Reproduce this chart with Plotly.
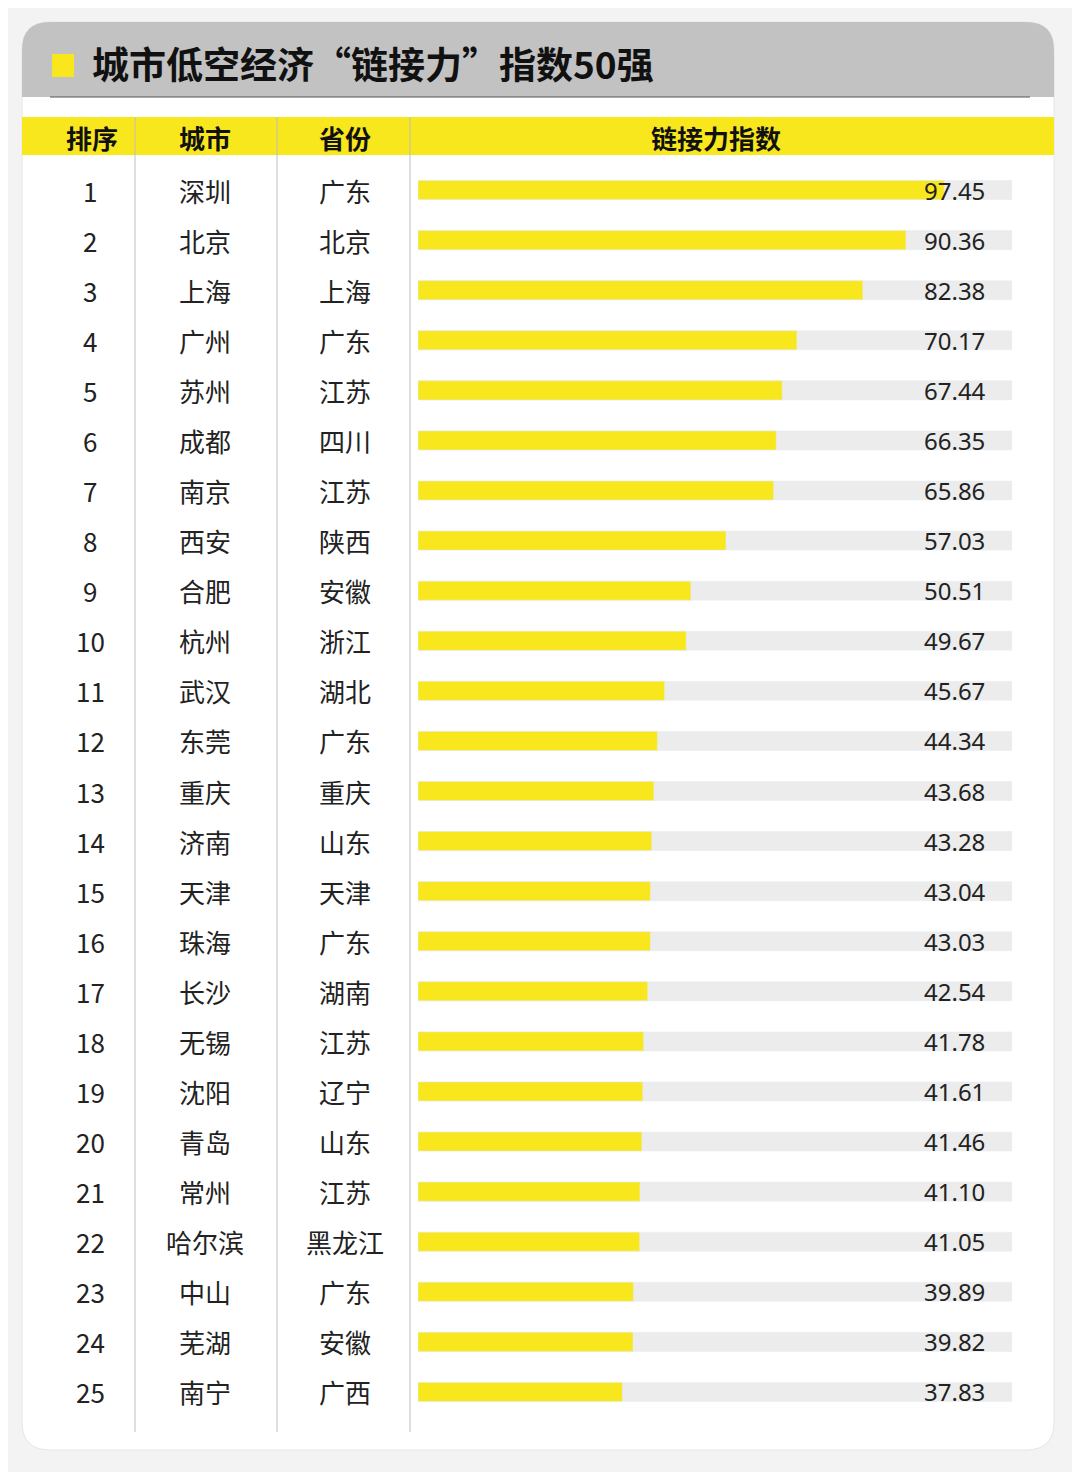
import plotly.graph_objects as go

ranks = list(range(1, 26))
cities = ["深圳","北京","上海","广州","苏州","成都","南京","西安","合肥","杭州","武汉","东莞","重庆","济南","天津","珠海","长沙","无锡","沈阳","青岛","常州","哈尔滨","中山","芜湖","南宁"]
provinces = ["广东","北京","上海","广东","江苏","四川","江苏","陕西","安徽","浙江","湖北","广东","重庆","山东","天津","广东","湖南","江苏","辽宁","山东","江苏","黑龙江","广东","安徽","广西"]
values = [97.45,90.36,82.38,70.17,67.44,66.35,65.86,57.03,50.51,49.67,45.67,44.34,43.68,43.28,43.04,43.03,42.54,41.78,41.61,41.46,41.10,41.05,39.89,39.82,37.83]
track_max = 110
title = "城市低空经济“链接力”指数50强"
headers = ["排序", "城市", "省份", "链接力指数"]

W, H = 1080, 1472
OFF = 8  # page body margin
def px(x): return (x - OFF) / W
def py(y): return 1 - (y - OFF) / H

fig = go.Figure()
fig.add_bar(y=ranks, x=[track_max]*len(ranks), orientation="h", marker_color="#ececec",
            width=0.38, hoverinfo="skip")
fig.add_bar(y=ranks, x=values, orientation="h", marker_color="#f8e71c", width=0.38)

shapes = []
r = 28
x0, x1, y0, y1 = px(22), px(1054), py(22), py(1450)
shapes.append(dict(type="path", xref="paper", yref="paper",
    path=f"M {x0+r/W},{y0} L {x1-r/W},{y0} Q {x1},{y0} {x1},{y0-r/H} L {x1},{y1+r/H} Q {x1},{y1} {x1-r/W},{y1} L {x0+r/W},{y1} Q {x0},{y1} {x0},{y1+r/H} L {x0},{y0-r/H} Q {x0},{y0} {x0+r/W},{y0} Z",
    fillcolor="white", line=dict(color="#e6e6e6", width=1), layer="below"))
shapes.append(dict(type="path", xref="paper", yref="paper",
    path=f"M {x0},{py(97)} L {x0},{y0-r/H} Q {x0},{y0} {x0+r/W},{y0} L {x1-r/W},{y0} Q {x1},{y0} {x1},{y0-r/H} L {x1},{py(97)} Z",
    fillcolor="#c2c2c2", line=dict(width=0), layer="below"))
shapes.append(dict(type="line", xref="paper", yref="paper", x0=px(50), x1=px(1030), y0=py(97), y1=py(97),
                   line=dict(color="#555", width=1.2)))
shapes.append(dict(type="rect", xref="paper", yref="paper", x0=px(52), x1=px(74), y0=py(54), y1=py(77),
                   fillcolor="#f8e71c", line=dict(width=0)))
shapes.append(dict(type="rect", xref="paper", yref="paper", x0=px(22), x1=px(1054), y0=py(117), y1=py(155),
                   fillcolor="#f8e71c", line=dict(width=0), layer="below"))
for vx in [135, 277, 410]:
    shapes.append(dict(type="line", xref="paper", yref="paper", x0=px(vx), x1=px(vx), y0=py(117), y1=py(1432),
                       line=dict(color="#bdbdbd", width=1)))

ann = [dict(text=title, xref="paper", yref="paper", x=px(90), y=py(63), xanchor="left", yanchor="middle",
            showarrow=False, font=dict(size=37, color="#111", family="Noto Sans CJK SC", weight="bold"))]
for hx, t in zip([92, 205, 345, 716], headers):
    ann.append(dict(text=t, xref="paper", yref="paper", x=px(hx), y=py(137), xanchor="center", yanchor="middle",
                    showarrow=False, font=dict(size=26, color="#111", family="Noto Sans CJK SC", weight="bold")))
f = dict(size=26, color="#222", family="Noto Sans CJK SC")
for rk, c, p, v in zip(ranks, cities, provinces, values):
    for xx, t in [(90, str(rk)), (205, c), (345, p)]:
        ann.append(dict(text=t, xref="paper", yref="y", x=px(xx), y=rk, xanchor="center", yanchor="middle",
                        showarrow=False, font=f))
    ann.append(dict(text=f"{v:.2f}", xref="paper", yref="y", x=px(922), y=rk, xanchor="left", yanchor="middle",
                    showarrow=False, font=dict(size=24, color="#222", family="Noto Sans")))

fig.update_layout(width=W, height=H, margin=dict(l=0, r=0, t=0, b=0),
    paper_bgcolor="#f3f3f3", plot_bgcolor="rgba(0,0,0,0)", barmode="overlay", showlegend=False,
    shapes=shapes, annotations=ann,
    xaxis=dict(domain=[px(418), px(1012)], range=[0, track_max], visible=False, fixedrange=True),
    yaxis=dict(domain=[py(1417), py(165)], range=[25.5, 0.5], visible=False, fixedrange=True))
fig.write_html("out.html")
